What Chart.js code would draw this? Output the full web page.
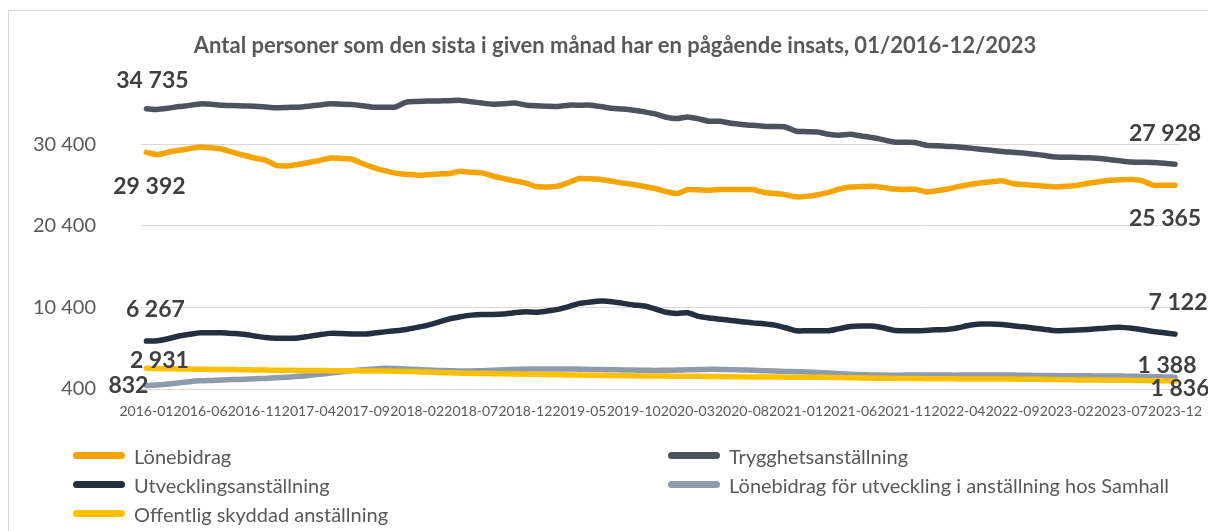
<!DOCTYPE html>
<html lang="sv">
<head>
<meta charset="utf-8">
<title>Antal personer med pågående insats</title>
<script src="https://cdn.jsdelivr.net/npm/chart.js@4/dist/chart.umd.min.js"></script>
<style>
  html, body { margin: 0; padding: 0; background: #fff; overflow: hidden; }
  body { width: 1208px; height: 531px; position: relative; font-family: Lato, "Open Sans", sans-serif; }
  .ram { position: absolute; left: 8px; top: 10px; width: 1300px; height: 600px; border: 1px solid #d9d9d9; }
  #diagram { position: absolute; left: 0; top: 0; }
  #rubrik { position: absolute; left: 0; top: 31px; width: 1230px; text-align: center;
            font-size: 22px; font-weight: bold; color: #595959; line-height: 28px; white-space: nowrap; }
  #legend { position: absolute; left: 73px; top: 441px; display: grid; grid-template-columns: 595px auto; }
  .leg-item { display: flex; align-items: center; height: 29px; font-size: 20px; color: #595959; }
  .leg-line { width: 52px; height: 7px; border-radius: 4px; margin-right: 9px; }
</style>
</head>
<body>
<div class="ram"></div>
<canvas id="diagram" width="1208" height="531"></canvas>
<div id="rubrik">Antal personer som den sista i given månad har en pågående insats, 01/2016-12/2023</div>
<div id="legend"></div>
<script>
// Månader 2016-01 .. 2023-12
const startAr = 2016;
const slutAr = 2023;
const manader = [];
for (let ar = startAr; ar <= slutAr; ar++) {
    for (let m = 1; m <= 12; m++) {
        manader.push(ar + '-' + String(m).padStart(2, '0'));
    }
}

// Y-axelns skalsteg
const yTicks = [400, 10400, 20400, 30400];

// Serier
const lonebidrag = [
    29392, 29130, 29400, 29650, 29850, 30060, 29950, 29780, 29400, 29040, 28700, 28430,
    27800, 27730, 27900, 28150, 28400, 28710, 28650, 28550, 28000, 27535, 27150, 26850,
    26700, 26600, 26650, 26750, 26800, 27080, 26950, 26875, 26500, 26190, 25900, 25650,
    25200, 25160, 25250, 25700, 26190, 26150, 26070, 25850, 25650, 25455, 25200, 24965,
    24600, 24350, 24840, 24800, 24760, 24840, 24840, 24840, 24840, 24500, 24350, 24200,
    23940, 24000, 24200, 24500, 24900, 25160, 25200, 25250, 25100, 24900, 24840, 24880,
    24550, 24700, 24900, 25200, 25455, 25650, 25780, 25900, 25580, 25450, 25350, 25250,
    25160, 25250, 25370, 25600, 25800, 25980, 26040, 26070, 25900, 25370, 25360, 25365
];

const trygghet = [
    34735, 34650, 34800, 35000, 35150, 35330, 35280, 35150, 35120, 35080, 35050, 34950,
    34850, 34900, 34930, 35050, 35200, 35340, 35300, 35250, 35100, 34930, 34920, 34950,
    35550, 35620, 35670, 35700, 35720, 35760, 35600, 35430, 35300, 35350, 35430, 35200,
    35100, 35050, 35015, 35175, 35175, 35175, 35000, 34800, 34700, 34550, 34350, 34100,
    33700, 33530, 33730, 33500, 33200, 33200, 32950, 32800, 32700, 32600, 32550, 32505,
    31980, 31930, 31890, 31600, 31490, 31610, 31400, 31205, 30950, 30670, 30620, 30590,
    30260, 30200, 30120, 30060, 29920, 29780, 29650, 29500, 29400, 29300, 29165, 29000,
    28835, 28800, 28760, 28720, 28650, 28500, 28350, 28220, 28180, 28150, 28050, 27928
];

const utveckling = [
    6267, 6300, 6550, 6890, 7100, 7290, 7300, 7290, 7200, 7095, 6900, 6700,
    6605, 6620, 6650, 6850, 7050, 7215, 7200, 7150, 7130, 7250, 7400, 7535,
    7700, 7950, 8230, 8600, 9000, 9250, 9450, 9540, 9540, 9600, 9750, 9865,
    9790, 9950, 10155, 10500, 10890, 11050, 11170, 11100, 10890, 10700, 10560, 10200,
    9800, 9665, 9740, 9300, 9100, 8950, 8800, 8650, 8500, 8400, 8230, 7900,
    7535, 7535, 7535, 7535, 7800, 8050, 8110, 8110, 7900, 7600, 7535, 7535,
    7580, 7650, 7705, 7900, 8200, 8355, 8355, 8300, 8150, 8025, 7850, 7700,
    7535, 7570, 7620, 7700, 7800, 7900, 7950, 7830, 7650, 7450, 7300, 7122
];

const lonebidragSamhall = [
    832, 900, 1000, 1150, 1300, 1400, 1450, 1500, 1550, 1600, 1650, 1700,
    1780, 1850, 1950, 2050, 2200, 2350, 2500, 2650, 2750, 2850, 2930, 2900,
    2850, 2780, 2720, 2680, 2640, 2600, 2620, 2650, 2700, 2750, 2800, 2830,
    2850, 2860, 2850, 2850, 2820, 2800, 2780, 2760, 2740, 2720, 2700, 2680,
    2700, 2720, 2750, 2780, 2810, 2800, 2770, 2740, 2700, 2650, 2600, 2550,
    2520, 2480, 2420, 2350, 2280, 2200, 2150, 2115, 2100, 2090, 2100, 2110,
    2120, 2110, 2100, 2100, 2110, 2120, 2115, 2115, 2100, 2080, 2060, 2050,
    2040, 2030, 2020, 2010, 2000, 1990, 1980, 1960, 1940, 1910, 1880, 1836
];

const offentlig = [
    2931, 2900, 2880, 2860, 2840, 2820, 2800, 2790, 2780, 2760, 2740, 2725,
    2700, 2690, 2680, 2670, 2660, 2650, 2640, 2630, 2620, 2610, 2600, 2580,
    2550, 2510, 2470, 2420, 2380, 2340, 2320, 2300, 2280, 2260, 2240, 2220,
    2200, 2180, 2150, 2115, 2100, 2080, 2060, 2040, 2020, 2000, 1990, 1990,
    1980, 1970, 1960, 1950, 1940, 1920, 1900, 1890, 1880, 1870, 1860, 1850,
    1840, 1835, 1830, 1820, 1800, 1780, 1760, 1740, 1720, 1700, 1690, 1680,
    1670, 1660, 1650, 1640, 1630, 1625, 1620, 1620, 1610, 1600, 1590, 1570,
    1550, 1530, 1510, 1500, 1490, 1480, 1470, 1450, 1430, 1410, 1400, 1388
];

const FONT = 'Lato, "Open Sans", sans-serif';

// Tal med mellanslag som tusentalsavgränsare
function formatTal(v) {
    return String(Math.round(v)).replace(/\B(?=(\d{3})+(?!\d))/g, ' ');
}

function serie(namn, data, farg, ordning, forst, sist) {
    return {
        label: namn,
        data: data,
        borderColor: farg,
        backgroundColor: farg,
        borderWidth: 5.5,
        borderCapStyle: 'round',
        borderJoinStyle: 'round',
        pointRadius: 0,
        tension: 0.2,
        order: ordning,
        etikettForst: forst,
        etikettSist: sist
    };
}

// Värdeetiketter vid första och sista punkten
const slutEtiketter = {
    id: 'slutEtiketter',
    afterDatasetsDraw(chart) {
        const ctx = chart.ctx;
        ctx.save();
        ctx.font = 'bold 23px ' + FONT;
        ctx.fillStyle = '#404040';
        ctx.textAlign = 'center';
        ctx.textBaseline = 'middle';
        chart.data.datasets.forEach((ds, i) => {
            const pts = chart.getDatasetMeta(i).data;
            const sista = pts.length - 1;
            [[0, ds.etikettForst], [sista, ds.etikettSist]].forEach(([idx, off]) => {
                const p = pts[idx];
                ctx.fillText(formatTal(ds.data[idx]), p.x + off[0], p.y + off[1]);
            });
        });
        ctx.restore();
    }
};

document.addEventListener('DOMContentLoaded', function() {
    const ctx = document.getElementById('diagram');

    const chart = new Chart(ctx, {
        type: 'line',
        data: {
            labels: manader,
            datasets: [
                serie('Lönebidrag', lonebidrag, '#F5A400', 5, [3, 34], [-10, 33]),
                serie('Trygghetsanställning', trygghet, '#4D535E', 4, [6, -28], [-10, -31]),
                serie('Utvecklingsanställning', utveckling, '#243040', 3, [9, -32], [3, -32]),
                serie('Lönebidrag för utveckling i anställning hos Samhall', lonebidragSamhall, '#8E9BAD', 2, [-18, 0], [5, 11]),
                serie('Offentlig skyddad anställning', offentlig, '#FFC000', 1, [13, -8], [-8, -15])
            ]
        },
        options: {
            responsive: false,
            animation: false,
            layout: { padding: { left: 0, right: 0, top: 87, bottom: 0 } },
            plugins: {
                legend: { display: false },
                tooltip: { enabled: false },
                title: { display: false }
            },
            scales: {
                x: {
                    offset: true,
                    grid: { display: false },
                    border: { display: false },
                    ticks: {
                        autoSkip: false,
                        maxRotation: 0,
                        minRotation: 0,
                        padding: 6,
                        color: '#595959',
                        font: { family: FONT, size: 14 },
                        callback: function(value, index) {
                            return index % 5 === 0 ? manader[index] : '';
                        }
                    },
                    afterFit: function(scale) { scale.height = 142; }
                },
                y: {
                    min: 400,
                    max: 37400,
                    grid: { color: '#d9d9d9', lineWidth: 1, drawTicks: false },
                    border: { display: false },
                    ticks: {
                        padding: 45,
                        color: '#595959',
                        font: { family: FONT, size: 20 },
                        callback: v => formatTal(v)
                    },
                    afterBuildTicks: function(scale) {
                        scale.ticks = yTicks.map(v => ({ value: v }));
                    },
                    afterFit: function(scale) { scale.width = 141; }
                }
            }
        },
        plugins: [slutEtiketter]
    });

    // HTML-förklaring i två kolumner
    const legend = document.getElementById('legend');
    chart.data.datasets.forEach(ds => {
        const item = document.createElement('div');
        item.className = 'leg-item';
        item.innerHTML = `<span class="leg-line" style="background:${ds.borderColor}"></span><span>${ds.label}</span>`;
        legend.appendChild(item);
    });
});
</script>
</body>
</html>
